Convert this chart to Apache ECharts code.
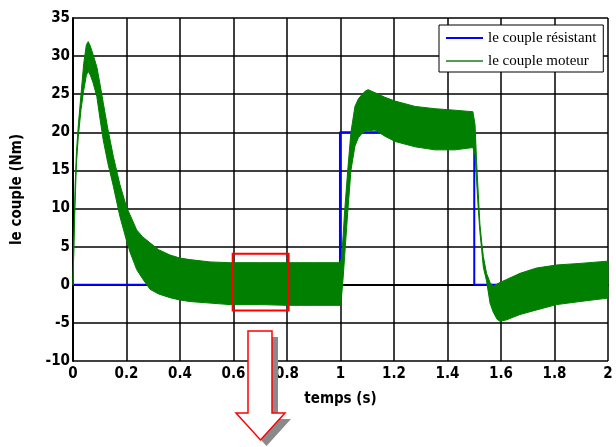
<!DOCTYPE html>
<html>
<head>
<meta charset="utf-8">
<script src="https://cdn.jsdelivr.net/npm/echarts@6/dist/echarts.min.js"></script>
<style>html,body{margin:0;padding:0;background:#fff;}#c{width:616px;height:447px;}</style>
</head>
<body>
<div id="c"></div>
<script>
// time samples (s) for the motor torque envelope
const timeS = [0, 0.004, 0.008, 0.013, 0.02, 0.03, 0.04, 0.05, 0.057, 0.065, 0.075, 0.089, 0.1, 0.113, 0.13, 0.151, 0.175, 0.2, 0.213, 0.238, 0.26, 0.288, 0.32, 0.363, 0.4, 0.437, 0.512, 0.587, 0.7, 0.8, 0.9, 0.998, 1.004, 1.01, 1.015, 1.027, 1.039, 1.054, 1.067, 1.079, 1.092, 1.103, 1.129, 1.166, 1.204, 1.279, 1.353, 1.428, 1.495, 1.503, 1.509, 1.515, 1.521, 1.528, 1.534, 1.546, 1.559, 1.571, 1.585, 1.596, 1.621, 1.671, 1.733, 1.808, 1.895, 2.0];
// upper and lower envelope of "le couple moteur" (Nm)
const motorUpper = [0, 7, 13, 17.5, 21, 25, 29, 31.5, 31.9, 31.3, 30.2, 28.6, 26.5, 23.9, 20.5, 16.8, 13.2, 10.2, 9.2, 7.2, 6.3, 5.5, 4.6, 3.9, 3.5, 3.3, 3.0, 2.9, 2.9, 2.9, 2.9, 2.9, 3.5, 6.5, 9.4, 15, 20, 23.4, 24.4, 24.9, 25.4, 25.6, 25.2, 24.6, 24.1, 23.4, 23.1, 22.9, 22.7, 21, 16, 12, 8, 5.5, 3.7, 1.5, 0.3, -0.2, 0.1, 0.3, 0.7, 1.5, 2.2, 2.6, 2.8, 3.1];
const motorLower = [0, 6, 11, 16, 19.5, 23, 25.5, 27.5, 28, 27.5, 26.5, 24.7, 22, 19, 16, 12.9, 9, 5.8, 4.3, 2, 0.8, -0.6, -1.2, -1.7, -2.0, -2.2, -2.4, -2.6, -2.6, -2.7, -2.7, -2.7, -1.5, 1.0, 3.5, 9.5, 15, 18.2, 19.3, 19.8, 20.1, 20.2, 20.3, 19.5, 18.8, 18.1, 17.7, 17.7, 18.0, 17, 13.5, 10, 7, 4.5, 2.3, 0.5, -2.4, -3.6, -4.5, -4.8, -4.6, -3.9, -3.3, -2.6, -2.2, -1.75];
// "le couple résistant" step (Nm)
const loadT = [0, 0.998, 0.998, 1.5, 1.5, 2];
const loadV = [0, 0, 20, 20, 0, 0];
// tick labels
const xTickLabels = ['0', '0.2', '0.4', '0.6', '0.8', '1', '1.2', '1.4', '1.6', '1.8', '2'];
const yTickLabels = ['-10', '-5', '0', '5', '10', '15', '20', '25', '30', '35'];
// highlighted zoom box (data coords)
const zoomBox = [[0.597, 4.07], [0.806, -3.37]];

const FONT = '"DejaVu Sans Condensed", "DejaVu Sans", sans-serif';
const chart = echarts.init(document.getElementById('c'), null, {renderer: 'canvas'});
const loadData = loadT.map((t, i) => [t, loadV[i]]);
const arrowPts = [[248, 331], [272, 331], [272, 413], [285, 413], [260.5, 440], [236, 413], [248, 413]];

chart.setOption({
  backgroundColor: '#fff',
  animation: false,
  grid: {left: 73, right: 8, top: 18, bottom: 86},
  legend: {
    orient: 'vertical', left: 439, top: 25,
    backgroundColor: '#fff', borderColor: '#000', borderWidth: 1,
    padding: [5, 7, 3, 7], itemGap: 7, itemWidth: 37, itemHeight: 2,
    textStyle: {fontFamily: '"Liberation Serif", serif', fontSize: 15, color: '#000', lineHeight: 16, padding: [0, 0, 0, 0]},
    data: [
      {name: 'le couple résistant', icon: 'rect', itemStyle: {color: '#0000ff'}},
      {name: 'le couple moteur', icon: 'rect', itemStyle: {color: '#4f9f4f'}}
    ]
  },
  xAxis: {
    type: 'value', min: 0, max: 2, interval: 0.2,
    name: 'temps (s)', nameLocation: 'middle', nameGap: 31,
    nameTextStyle: {fontFamily: FONT, fontWeight: 'bold', fontSize: 15, color: '#000'},
    axisLine: {lineStyle: {color: '#000', width: 2}},
    axisTick: {show: false},
    axisLabel: {fontFamily: FONT, fontWeight: 'bold', fontSize: 15, color: '#000', margin: 6,
      formatter: v => xTickLabels[Math.round(v / 0.2)]},
    splitLine: {show: true, lineStyle: {color: '#000', width: 1.5}}
  },
  yAxis: {
    type: 'value', min: -10, max: 35, interval: 5,
    name: 'le couple (Nm)', nameLocation: 'middle', nameGap: 48, nameRotate: 90,
    nameTextStyle: {fontFamily: FONT, fontWeight: 'bold', fontSize: 15, color: '#000'},
    axisLine: {show: true, lineStyle: {color: '#000', width: 2}},
    axisTick: {show: false},
    axisLabel: {fontFamily: FONT, fontWeight: 'bold', fontSize: 15, color: '#000', margin: 3,
      formatter: v => yTickLabels[Math.round((v + 10) / 5)]},
    splitLine: {show: true, lineStyle: {color: '#000', width: 1.5}}
  },
  series: [
    {
      name: 'le couple résistant', type: 'line', data: loadData, showSymbol: false, z: 2,
      lineStyle: {color: '#0000ff', width: 2}, itemStyle: {color: '#0000ff'}
    },
    {
      name: 'le couple moteur', type: 'custom', z: 3, data: [[0, 0]],
      itemStyle: {color: '#008000'},
      renderItem: function (params, api) {
        const up = timeS.map((t, i) => api.coord([t, motorUpper[i]]));
        const lo = timeS.map((t, i) => api.coord([t, motorLower[i]])).reverse();
        return {
          type: 'polygon',
          shape: {points: up.concat(lo)},
          style: {fill: '#007f00', stroke: '#007f00', lineWidth: 1}
        };
      }
    },
    {
      name: 'zoom', type: 'custom', z: 4, data: [[0, 0]], silent: true,
      renderItem: function (params, api) {
        const a = api.coord(zoomBox[0]);
        const b = api.coord(zoomBox[1]);
        return {
          type: 'rect',
          shape: {x: a[0], y: a[1], width: b[0] - a[0], height: b[1] - a[1]},
          style: {fill: 'none', stroke: '#ff0000', lineWidth: 2}
        };
      }
    }
  ],
  graphic: [
    {
      type: 'polygon', z: 99, x: 6, y: 6,
      shape: {points: arrowPts},
      style: {fill: '#8a8a8a', stroke: 'none'}
    },
    {
      type: 'polygon', z: 100,
      shape: {points: arrowPts},
      style: {fill: '#fff', stroke: '#ff0000', lineWidth: 1.5}
    }
  ]
});
</script>
</body>
</html>
